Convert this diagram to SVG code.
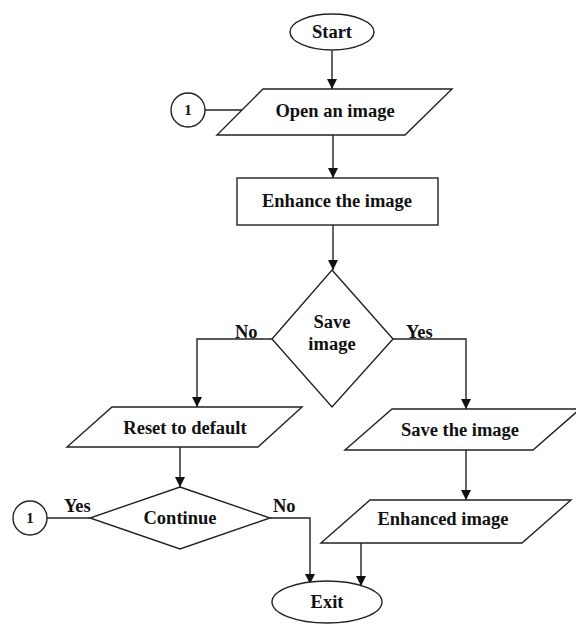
<svg xmlns="http://www.w3.org/2000/svg" width="576" height="626" viewBox="0 0 576 626">
<defs>
<style>
.s{fill:#fff;stroke:#222;stroke-width:1.4}
.c{fill:none;stroke:#222;stroke-width:1.4}
text{font-family:"Liberation Serif","Times New Roman",serif;font-weight:bold;font-size:18.5px;fill:#111;text-anchor:middle}
.sm{font-size:15px}
.lb{text-anchor:start}
</style>
<marker id="ah" markerUnits="userSpaceOnUse" markerWidth="10" markerHeight="12" refX="10" refY="5" orient="auto">
<path d="M0,0 L10,5 L0,10 z" fill="#111"/>
</marker>
</defs>
<rect width="576" height="626" fill="#fff"/>
<g id="connectors">
<path class="c" d="M332,51 L332,89" marker-end="url(#ah)"/>
<path class="c" d="M205,110 L242,110"/>
<path class="c" d="M333,135 L333,178" marker-end="url(#ah)"/>
<path class="c" d="M333,225 L333,270" marker-end="url(#ah)"/>
<path class="c" d="M272,339 L197,339 L197,407" marker-end="url(#ah)"/>
<path class="c" d="M393,339 L466,339 L466,409" marker-end="url(#ah)"/>
<path class="c" d="M180,447 L180,487" marker-end="url(#ah)"/>
<path class="c" d="M90,518 L47,518"/>
<path class="c" d="M270,518 L310,518 L310,584" marker-end="url(#ah)"/>
<path class="c" d="M466,450 L466,500" marker-end="url(#ah)"/>
<path class="c" d="M361,543 L361,586" marker-end="url(#ah)"/>
</g>
<g id="start"><ellipse class="s" cx="332" cy="32" rx="42" ry="18"/><text x="332" y="38">Start</text></g>
<g id="conn1-top"><circle class="s" cx="188" cy="110" r="17"/><text class="sm" x="188" y="115">1</text></g>
<g id="open"><polygon class="s" points="263,89 452,89 405,135 217,135"/><text x="335" y="117">Open an image</text></g>
<g id="enhance"><rect class="s" x="237" y="178" width="201" height="47"/><text x="337" y="207">Enhance the image</text></g>
<g id="save-q"><polygon class="s" points="332,270 393,339 332,407 272,339"/><text x="332" y="328">Save</text><text x="332" y="350">image</text></g>
<text class="lb" x="235" y="338">No</text>
<text class="lb" x="406" y="338">Yes</text>
<g id="reset"><polygon class="s" points="112,407 302,407 258,447 67,447"/><text x="185" y="434">Reset to default</text></g>
<g id="continue"><polygon class="s" points="180,487 270,518 180,549 90,518"/><text x="180" y="524">Continue</text></g>
<g id="conn1-bottom"><circle class="s" cx="30" cy="518" r="17"/><text class="sm" x="30" y="523">1</text></g>
<text class="lb" x="64" y="512">Yes</text>
<text class="lb" x="273" y="512">No</text>
<g id="save"><polygon class="s" points="392,409 580,409 533,450 345,450"/><text x="460" y="436">Save the image</text></g>
<g id="enhanced"><polygon class="s" points="370,500 571,500 522,543 321,543"/><text x="443" y="525">Enhanced image</text></g>
<g id="exit"><ellipse class="s" cx="327" cy="602" rx="55" ry="21"/><text x="327" y="608">Exit</text></g>
</svg>
